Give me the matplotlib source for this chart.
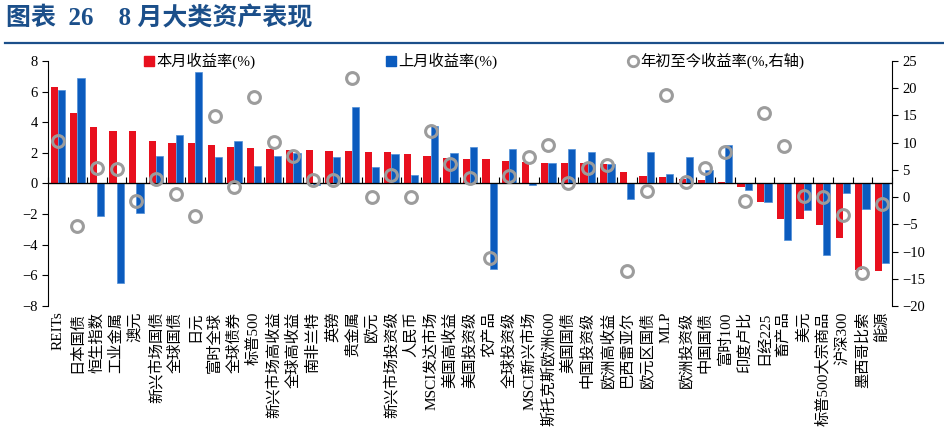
import matplotlib
matplotlib.use("Agg")
import matplotlib.pyplot as plt
from matplotlib.lines import Line2D
import numpy as np

plt.rcParams["font.family"] = ["Liberation Serif", "Noto Sans CJK SC"]

CATEGORIES = [
    "REITs", "日本国债", "恒生指数", "工业金属", "澳元", "新兴市场国债", "全球国债", "日元",
    "富时全球", "全球债券", "标普500", "新兴市场高收益", "全球高收益", "南非兰特", "英镑",
    "贵金属", "欧元", "新兴市场投资级", "人民币", "MSCI发达市场", "美国高收益", "美国投资级",
    "农产品", "全球投资级", "MSCI新兴市场", "斯托克斯欧洲600", "美国国债", "中国投资级",
    "欧洲高收益", "巴西雷亚尔", "欧元区国债", "MLP", "欧洲投资级", "中国国债", "富时100",
    "印度卢比", "日经225", "畜产品", "美元", "标普500大宗商品", "沪深300", "墨西哥比索", "能源",
]
THIS_MONTH = [
    6.32, 4.62, 3.70, 3.44, 3.40, 2.79, 2.61, 2.61, 2.51, 2.37, 2.31, 2.22, 2.18, 2.18, 2.14,
    2.14, 2.07, 2.07, 1.90, 1.79, 1.68, 1.61, 1.61, 1.46, 1.37, 1.35, 1.31, 1.31, 1.28, 0.78,
    0.48, 0.41, 0.31, 0.22, 0.11, -0.22, -1.20, -2.35, -2.35, -2.70, -3.59, -5.66, -5.73,
]
LAST_MONTH = [
    6.10, 6.86, -2.13, -6.49, -1.96, 1.79, 3.18, 7.28, 1.70, 2.79, 1.13, 1.79, 1.96, -0.08, 1.70,
    5.01, 1.09, 1.90, 0.54, 3.75, 1.96, 2.35, -5.58, 2.22, -0.10, 1.35, 2.22, 2.07, 1.28, -1.02,
    2.07, 0.61, 1.74, 0.87, 2.53, -0.44, -1.24, -3.70, -1.70, -4.68, -0.61, -1.66, -5.19,
]
YTD = [
    10.3, -5.3, 5.4, 5.2, -0.8, 3.4, 0.6, -3.5, 14.9, 1.9, 18.4, 10.1, 7.5, 3.1, 3.1,
    21.8, 0.1, 4.0, 0.1, 12.1, 6.1, 3.5, -11.1, 3.8, 7.4, 9.6, 2.6, 5.3, 5.8, -13.6,
    1.2, 18.8, 2.7, 5.4, 8.2, -0.8, 15.4, 9.3, 0.2, 0.0, -3.2, -13.9, -1.3,
]

RED = "#E8101E"
BLUE = "#0B5BBE"
GRAY = "#9C9C9C"
NAVY = "#1B4F8A"

fig = plt.figure(figsize=(9.44, 4.41), dpi=100)
ax = fig.add_axes([0.0508, 0.306, 0.894, 0.556])
x = np.arange(len(CATEGORIES))
w = 0.37

ax.bar(x - w / 2, THIS_MONTH, w, color=RED, zorder=2)
ax.bar(x + w / 2, LAST_MONTH, w, color=BLUE, edgecolor="#4F8FD8", linewidth=0.5, zorder=2)
ax.axhline(0, color="black", lw=0.9, zorder=3)

ax.set_xlim(-0.5, len(CATEGORIES) - 0.5)
ax.set_ylim(-8, 8)
ax.set_yticks(range(-8, 9, 2))
ax.set_xticks(x)
ax.set_xticklabels(CATEGORIES, rotation=90, fontsize=11)
ax.tick_params(axis="x", length=0, pad=4)
ax.tick_params(axis="y", direction="out", length=4, labelsize=10.5)
for s in ("top", "bottom", "right"):
    ax.spines[s].set_visible(False)

# category boundary ticks on the zero line
sec = ax.secondary_xaxis(0.5)
sec.set_xticks(np.arange(len(CATEGORIES) + 1) - 0.5)
sec.set_xticklabels([])
sec.tick_params(direction="out", length=4, width=0.8)
sec.spines["bottom"].set_visible(False)

ax2 = ax.twinx()
ax2.plot(x, YTD, linestyle="none", marker="o", markersize=8.5,
         markerfacecolor="none", markeredgecolor=GRAY, markeredgewidth=2.2, zorder=4)
ax2.set_ylim(-20, 25)
ax2.set_yticks(range(-20, 26, 5))
ax2.tick_params(axis="y", direction="out", length=4, labelsize=10.5)
for s in ("top", "bottom", "left"):
    ax2.spines[s].set_visible(False)

handles = [
    Line2D([], [], linestyle="none", marker="s", markersize=7, color=RED),
    Line2D([], [], linestyle="none", marker="s", markersize=7, color=BLUE),
    Line2D([], [], linestyle="none", marker="o", markersize=7.5, markerfacecolor="none",
           markeredgecolor=GRAY, markeredgewidth=2),
]
labels = ["本月收益率(%)", "上月收益率(%)", "年初至今收益率(%,右轴)"]
ax2.legend(handles, labels, ncol=3, frameon=False, fontsize=11, loc="center left",
           bbox_to_anchor=(0.105, 1.0), handletextpad=0.1, handlelength=0.8,
           columnspacing=8.45, borderaxespad=0)

fig.text(0.006, 0.958, "图表  26    8 月大类资产表现", fontsize=18, fontweight="bold",
         color=NAVY, va="center", ha="left")
fig.add_artist(Line2D([0.005, 1.0], [0.902, 0.902], transform=fig.transFigure,
                      color=NAVY, lw=1.6))

fig.savefig("out.png", dpi=100)
